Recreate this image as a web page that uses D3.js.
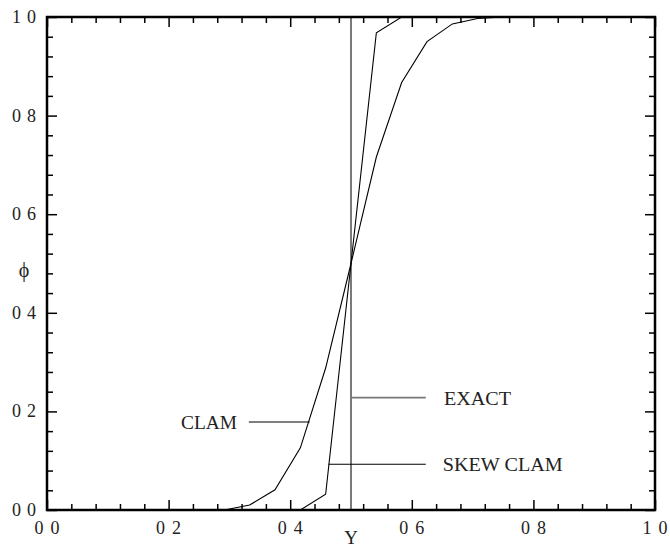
<!DOCTYPE html>
<html>
<head>
<meta charset="utf-8">
<script src="https://cdn.jsdelivr.net/npm/d3@7"></script>
<style>
  html, body { margin: 0; padding: 0; background: #fff; }
  svg { display: block; }
  text { font-family: "Liberation Serif", "DejaVu Serif", serif; fill: #222; }
</style>
</head>
<body>
<svg id="chart" width="670" height="547"></svg>
<script>
// ---- data ----
const clamX = [0.0, 0.2917, 0.3333, 0.375, 0.4167, 0.4583, 0.5, 0.5417, 0.5833, 0.625, 0.6667, 0.7083, 0.75, 1.0];
const clamY = [0.0, 0.0, 0.010, 0.041, 0.126, 0.288, 0.5, 0.716, 0.867, 0.950, 0.986, 0.997, 1.0, 1.0];
const skewX = [0.0, 0.4167, 0.4583, 0.5, 0.5417, 0.5833, 1.0];
const skewY = [0.0, 0.0, 0.032, 0.5, 0.968, 1.0, 1.0];
const exactX = [0.0, 0.5, 0.5, 1.0];
const exactY = [0.0, 0.0, 1.0, 1.0];
const majorTicks = [0.0, 0.2, 0.4, 0.6, 0.8, 1.0];
const tickLabels = ["0 0", "0 2", "0 4", "0 6", "0 8", "1 0"];
const minorStep = 0.04;
const annotations = [
  { label: "CLAM",      tx: 0.3125, x1: 0.332, x2: 0.432, y: 0.1785, anchor: "end",   color: "#000", w: 56 },
  { label: "EXACT",     tx: 0.653,  x1: 0.5,   x2: 0.623, y: 0.228,  anchor: "start", color: "#777", w: 67 },
  { label: "SKEW CLAM", tx: 0.651,  x1: 0.463, x2: 0.623, y: 0.0927, anchor: "start", color: "#000", w: 120 }
];

// ---- layout ----
const L = 47, R = 655, T = 17, B = 510;
const svg = d3.select("#chart");
const x = d3.scaleLinear().domain([0, 1]).range([L, R]);
const y = d3.scaleLinear().domain([0, 1]).range([B, T]);

const minors = d3.range(0, 1.0001, minorStep).map(v => +v.toFixed(4))
  .filter(v => !majorTicks.some(m => Math.abs(m - v) < 1e-6));

function drawAxis(axisGen, transform) {
  const gMin = svg.append("g").attr("transform", transform)
    .call(axisGen(minors).tickSize(6).tickFormat(""));
  const gMaj = svg.append("g").attr("transform", transform)
    .call(axisGen(majorTicks).tickSize(10).tickFormat(""));
  [gMin, gMaj].forEach(g => {
    g.select(".domain").remove();
    g.selectAll("line").attr("stroke", "#000").attr("stroke-width", 1.5);
  });
}
drawAxis(v => d3.axisTop(x).tickValues(v), `translate(0,${B})`);
drawAxis(v => d3.axisBottom(x).tickValues(v), `translate(0,${T})`);
drawAxis(v => d3.axisRight(y).tickValues(v), `translate(${L},0)`);
drawAxis(v => d3.axisLeft(y).tickValues(v), `translate(${R},0)`);

// tick labels
svg.append("g").selectAll("text").data(majorTicks).join("text")
  .attr("x", d => x(d) - 12.5).attr("y", B + 24)
  .attr("font-size", 18).attr("textLength", 25).attr("lengthAdjust", "spacing")
  .text((d, i) => tickLabels[i]);
svg.append("g").selectAll("text").data(majorTicks).join("text")
  .attr("x", 12).attr("y", d => y(d) + 6)
  .attr("font-size", 18).attr("textLength", 24).attr("lengthAdjust", "spacing")
  .text((d, i) => tickLabels[i]);

// axis titles
svg.append("text").attr("x", x(0.5)).attr("y", 544)
  .attr("text-anchor", "middle").attr("font-size", 19).text("Y");
svg.append("text").attr("x", 24).attr("y", 277)
  .attr("text-anchor", "middle").attr("font-size", 20).text("ϕ");

// curves
const line = d3.line().x(d => x(d[0])).y(d => y(d[1]));
svg.append("path").datum(d3.zip(exactX, exactY)).attr("d", line)
  .attr("fill", "none").attr("stroke", "#7a7a7a").attr("stroke-width", 2);
svg.append("path").datum(d3.zip(clamX, clamY)).attr("d", line)
  .attr("fill", "none").attr("stroke", "#000").attr("stroke-width", 1.1);
svg.append("path").datum(d3.zip(skewX, skewY)).attr("d", line)
  .attr("fill", "none").attr("stroke", "#000").attr("stroke-width", 1.1);

// annotations
annotations.forEach(a => {
  svg.append("line").attr("x1", x(a.x1)).attr("x2", x(a.x2))
    .attr("y1", y(a.y)).attr("y2", y(a.y))
    .attr("stroke", a.color).attr("stroke-width", a.color === "#000" ? 1.1 : 1.6);
  svg.append("text").attr("x", x(a.tx)).attr("y", y(a.y) + 7)
    .attr("text-anchor", a.anchor).attr("font-size", 19)
    .attr("textLength", a.w).attr("lengthAdjust", "spacingAndGlyphs")
    .text(a.label);
});

// frame
svg.append("rect").attr("x", L).attr("y", T).attr("width", R - L).attr("height", B - T)
  .attr("fill", "none").attr("stroke", "#000").attr("stroke-width", 2.5);
</script>
</body>
</html>
